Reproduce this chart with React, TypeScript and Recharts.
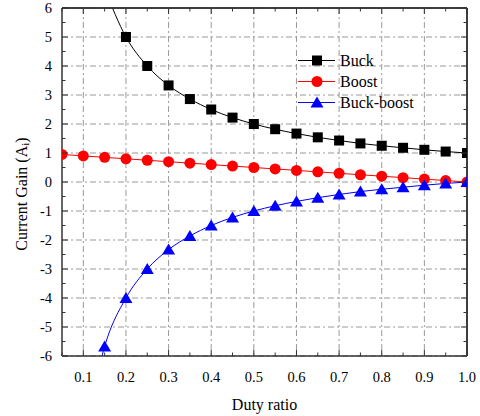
import React from "react";
import { CartesianGrid, Legend, Line, LineChart, ReferenceLine, XAxis, YAxis } from "recharts";

const DUTY = [0.05, 0.1, 0.15, 0.2, 0.25, 0.3, 0.35, 0.4, 0.45, 0.5, 0.55, 0.6, 0.65, 0.7, 0.75, 0.8, 0.85, 0.9, 0.95, 1.0];
const BUCK = [null, null, 6.67, 5, 4, 3.33, 2.86, 2.5, 2.22, 2, 1.82, 1.67, 1.54, 1.43, 1.33, 1.25, 1.18, 1.11, 1.05, 1];
const BOOST = [0.95, 0.9, 0.85, 0.8, 0.75, 0.7, 0.65, 0.6, 0.55, 0.5, 0.45, 0.4, 0.35, 0.3, 0.25, 0.2, 0.15, 0.1, 0.05, 0];
const BUCK_BOOST = [null, -9, -5.67, -4, -3, -2.33, -1.86, -1.5, -1.22, -1, -0.82, -0.67, -0.54, -0.43, -0.33, -0.25, -0.18, -0.11, -0.05, 0];

const X_TICKS = [0.05, 0.1, 0.15, 0.2, 0.25, 0.3, 0.35, 0.4, 0.45, 0.5, 0.55, 0.6, 0.65, 0.7, 0.75, 0.8, 0.85, 0.9, 0.95, 1.0];
const X_MAJOR = [0.1, 0.2, 0.3, 0.4, 0.5, 0.6, 0.7, 0.8, 0.9, 1.0];
const Y_TICKS = [-6, -5.5, -5, -4.5, -4, -3.5, -3, -2.5, -2, -1.5, -1, -0.5, 0, 0.5, 1, 1.5, 2, 2.5, 3, 3.5, 4, 4.5, 5, 5.5, 6];
const Y_MAJOR = [-6, -5, -4, -3, -2, -1, 0, 1, 2, 3, 4, 5, 6];

const SERIES = [
  { key: "buck", name: "Buck", color: "#000000", shape: "square" },
  { key: "boost", name: "Boost", color: "#ff0000", shape: "circle" },
  { key: "buckBoost", name: "Buck-boost", color: "#0000ff", shape: "triangle" },
] as const;

const rows = DUTY.map((d, i) => ({ d, buck: BUCK[i], boost: BOOST[i], buckBoost: BUCK_BOOST[i] }));

const FONT = '"Liberation Serif", "Times New Roman", serif';
const AXIS = { stroke: "#333", strokeWidth: 1.5 };

function Marker({ shape, cx, cy, color }: { shape: string; cx: number; cy: number; color: string }) {
  if (shape === "square") return <rect x={cx - 5} y={cy - 5} width={10} height={10} fill={color} />;
  if (shape === "circle") return <circle cx={cx} cy={cy} r={5.5} fill={color} />;
  return <polygon points={`${cx},${cy - 6} ${cx + 6.5},${cy + 5} ${cx - 6.5},${cy + 5}`} fill={color} />;
}

function dotFor(shape: string, color: string) {
  return (p: any) => {
    if (p.cx == null || p.cy == null || p.value == null) return <g key={`${shape}-${p.index}`} />;
    return (
      <g key={`${shape}-${p.index}`}>
        <Marker shape={shape} cx={p.cx} cy={p.cy} color={color} />
      </g>
    );
  };
}

const isMajor = (v: number, step: number) => Math.abs(v / step - Math.round(v / step)) < 1e-6;

// inward ticks, long on major values, short on minor ones
function tickFor(side: "bottom" | "left" | "top" | "right") {
  return (p: any) => {
    const { x, y } = p;
    const v = p.payload.value;
    const major = side === "bottom" || side === "top" ? isMajor(v, 0.1) : isMajor(v, 1);
    const len = major ? 6 : 3.5;
    let line;
    if (side === "bottom") line = <line x1={x} y1={y} x2={x} y2={y - len} stroke="#333" />;
    else if (side === "top") line = <line x1={x} y1={y} x2={x} y2={y + len} stroke="#333" />;
    else if (side === "left") line = <line x1={x} y1={y} x2={x + len} y2={y} stroke="#333" />;
    else line = <line x1={x} y1={y} x2={x - len} y2={y} stroke="#333" />;
    let label = null;
    if (major && side === "bottom" && v > 0.06)
      label = (
        <text x={x} y={y + 26} textAnchor="middle" fontSize={14.5} fill="#000" fontFamily={FONT}>
          {v.toFixed(1)}
        </text>
      );
    if (major && side === "left")
      label = (
        <text x={x - 10} y={y + 5} textAnchor="end" fontSize={14.5} fill="#000" fontFamily={FONT}>
          {String(v)}
        </text>
      );
    return (
      <g>
        {line}
        {label}
      </g>
    );
  };
}

const yLabel = (p: any) => {
  const vb = p.viewBox;
  const cx = vb.x + 21;
  const cy = vb.y + vb.height / 2 + 12;
  return (
    <text
      x={cx}
      y={cy}
      transform={`rotate(-90 ${cx} ${cy})`}
      textAnchor="middle"
      dominantBaseline="central"
      fontSize={16}
      fill="#000"
      fontFamily={FONT}
    >
      Current Gain (A
      <tspan fontSize={11} dy={4}>
        i
      </tspan>
      <tspan dy={-4}>)</tspan>
    </text>
  );
};

function LegendBox() {
  return (
    <div style={{ fontFamily: FONT, fontSize: 16, color: "#000" }}>
      {SERIES.map((s) => (
        <div key={s.key} style={{ display: "flex", alignItems: "center", height: 21 }}>
          <svg width={42} height={21}>
            <line x1={0} y1={10.5} x2={37} y2={10.5} stroke={s.color} />
            <Marker shape={s.shape} cx={19} cy={10.5} color={s.color} />
          </svg>
          <span>{s.name}</span>
        </div>
      ))}
    </div>
  );
}

export default function App() {
  return (
    <div style={{ position: "absolute", left: 0, top: 0, background: "#fff" }}>
      <LineChart width={480} height={416} data={rows} margin={{ top: 7, right: 12, bottom: 0, left: 0 }}>
        <CartesianGrid
          stroke="#999"
          strokeDasharray="6 3 2 3"
          horizontalValues={Y_MAJOR}
          verticalValues={X_MAJOR}
        />
        <XAxis
          type="number"
          dataKey="d"
          domain={[0.05, 1]}
          ticks={X_TICKS}
          interval={0}
          allowDataOverflow
          height={60}
          tickLine={false}
          tickSize={0}
          tickMargin={0}
          tick={tickFor("bottom")}
          axisLine={AXIS}
          label={{ value: "Duty ratio", position: "insideBottom", offset: 6, fill: "#000", fontSize: 16, fontFamily: FONT }}
        />
        <XAxis
          xAxisId="t"
          orientation="top"
          type="number"
          dataKey="d"
          domain={[0.05, 1]}
          ticks={X_TICKS}
          interval={0}
          allowDataOverflow
          height={1}
          tickLine={false}
          tickSize={0}
          tickMargin={0}
          tick={tickFor("top")}
          axisLine={AXIS}
        />
        <YAxis
          type="number"
          domain={[-6, 6]}
          ticks={Y_TICKS}
          interval={0}
          allowDataOverflow
          width={62}
          tickLine={false}
          tickSize={0}
          tickMargin={0}
          tick={tickFor("left")}
          axisLine={AXIS}
          label={{ content: yLabel }}
        />
        <YAxis
          yAxisId="r"
          orientation="right"
          type="number"
          domain={[-6, 6]}
          ticks={Y_TICKS}
          interval={0}
          allowDataOverflow
          width={1}
          tickLine={false}
          tickSize={0}
          tickMargin={0}
          tick={tickFor("right")}
          axisLine={AXIS}
        />
        <ReferenceLine y={6} stroke="#333" strokeWidth={1.5} />
        <ReferenceLine x={1} stroke="#333" strokeWidth={1.5} />
        {SERIES.map((s) => (
          <Line
            key={s.key}
            dataKey={s.key}
            name={s.name}
            type="monotone"
            stroke={s.color}
            strokeWidth={1}
            dot={dotFor(s.shape, s.color)}
            activeDot={false}
            isAnimationActive={false}
          />
        ))}
        <Legend
          content={() => <LegendBox />}
          verticalAlign="middle"
          align="center"
          layout="horizontal"
          wrapperStyle={{ top: 50, left: 298, width: 140 }}
        />
      </LineChart>
    </div>
  );
}
